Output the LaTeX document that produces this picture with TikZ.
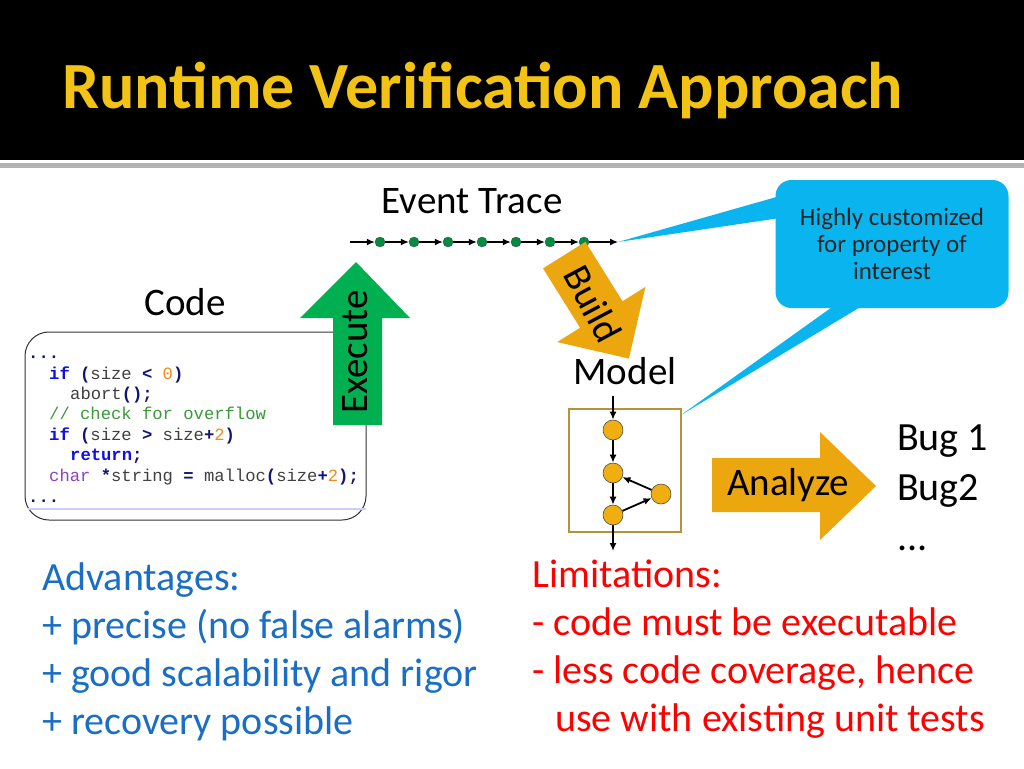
\documentclass[tikz,border=0pt]{standalone}
\usepackage{fontspec}
\setmainfont{Carlito}
\newfontfamily\codefont{Liberation Mono}
\usetikzlibrary{arrows.meta,positioning}
\definecolor{titlegold}{HTML}{F2C314}
\definecolor{callblue}{HTML}{0AB4EE}
\definecolor{exgreen}{HTML}{00B050}
\definecolor{amber}{HTML}{EDA70E}
\definecolor{modelgold}{HTML}{F0AE10}
\definecolor{boxbrown}{HTML}{B8923A}
\definecolor{advblue}{HTML}{1A6FC4}
\definecolor{kwblue}{HTML}{1010E0}
\definecolor{navy}{HTML}{141478}
\definecolor{numorange}{HTML}{F08A20}
\definecolor{cmtgreen}{HTML}{3A9A3A}
\definecolor{kwpurple}{HTML}{9040C0}
\newcommand{\fsz}[1]{\fontsize{#1}{#1}\selectfont}
\newcommand{\kw}[1]{\textcolor{kwblue}{\textbf{#1}}}
\newcommand{\pn}[1]{\textcolor{navy}{\textbf{#1}}}
\newcommand{\nm}[1]{\textcolor{numorange}{#1}}

\begin{document}
\begin{tikzpicture}[x=1pt,y=-1pt,
    lbl/.style={font=\fsz{39}},
    codeline/.style={anchor=base west,inner sep=0pt,font=\codefont\fontsize{17.2}{17}\selectfont,text=black!75},
    tick/.style={circle,fill=exgreen!80!black,draw=black!70,line width=0.4pt,inner sep=0pt,minimum size=10pt},
    state/.style={circle,fill=modelgold,draw=black!70,line width=0.6pt,inner sep=0pt,minimum size=20pt},
    edgeto/.style={-{Latex[length=8pt,width=7pt]},line width=1.8pt},
    listtext/.style={anchor=base west,inner sep=0pt,font=\fsz{40}}]
\useasboundingbox (0,0) rectangle (1024,768);
\fill[white] (0,0) rectangle (1024,768);
% header
\fill[black] (0,0) rectangle (1024,160);
\fill[black!30] (0,163) rectangle (1024,168);
\node[anchor=base west,inner sep=0pt,text=titlegold,font=\bfseries\fsz{66}] (title) at (62,108) {Runtime Verification Approach};

% event trace
\node[lbl] (trace) at (472,201) {Event Trace};
\coordinate (e0) at (350,242);
\coordinate (e8) at (618,242);
\foreach \i/\x in {1/380,2/414,3/448,4/482,5/516,6/550,7/584}
  \node[tick] (e\i) at (\x,242) {};
\foreach \a/\b in {0/1,1/2,2/3,3/4,4/5,5/6,6/7,7/8}
  \draw[-{Latex[length=8pt,width=7pt]},line width=1.3pt] (e\a) -- (e\b);

% callout
\fill[callblue] (e8) -- (780,196) -- (780,218) -- cycle;
\fill[callblue] (681,415) -- (842,300) -- (872,300) -- cycle;
\node[fill=callblue,rounded corners=16pt,minimum width=233pt,minimum height=128pt,
      align=center,font=\fsz{25},text=black!85] (call) at (892,244)
  {Highly customized\\[2pt]for property of\\[2pt]interest};

% code
\node[lbl] (code) at (185,302) {Code};
\draw[black!80,line width=1pt,rounded corners=24pt] (25,332) rectangle (366,520);
\draw[blue!20,line width=1.5pt] (28,509) -- (366,509);
\node[codeline] (c1) at (28,358) {\pn{...}};
\node[codeline] (c2) at (49,379) {\kw{if} \pn{(}size \pn{<} \nm{0}\pn{)}};
\node[codeline] (c3) at (70,399) {abort\pn{();}};
\node[codeline,text=cmtgreen] (c4) at (49,419) {// check for overflow};
\node[codeline] (c5) at (49,440) {\kw{if} \pn{(}size \pn{>} size\pn{+}\nm{2}\pn{)}};
\node[codeline] (c6) at (70,460) {\kw{return}\pn{;}};
\node[codeline] (c7) at (49,481) {\textcolor{kwpurple}{char} \pn{*}string \pn{=} malloc\pn{(}size\pn{+}\nm{2}\pn{);}};
\node[codeline] (c8) at (28,502) {\pn{...}};

% execute arrow
\fill[exgreen] (333,425) -- (333,318) -- (300,318) -- (356,262) -- (410,318) -- (382,318) -- (382,425) -- cycle;
\node[lbl,rotate=90] (exec) at (355,352) {Execute};

% build arrow
\begin{scope}[shift={(596,306)},rotate=-58]
  \fill[amber] (-60,-25) -- (10,-25) -- (10,-52) -- (62,0) -- (10,52) -- (10,25) -- (-60,25) -- cycle;
\end{scope}
\node[lbl,rotate=-62] (build) at (593,304) {Build};

% model
\node[lbl] (model) at (625,371) {Model};
\draw[boxbrown,line width=1.6pt] (569,409) rectangle (681,532);
\coordinate (m0) at (613,396);
\coordinate (m5) at (613,551);
\node[state] (s1) at (613,430) {};
\node[state] (s2) at (613,473) {};
\node[state] (s3) at (661,494) {};
\node[state] (s4) at (613,515) {};
\draw[edgeto] (m0) -- (s1);
\draw[edgeto] (s1) -- (s2);
\draw[edgeto] (s2) -- (s4);
\draw[edgeto] (s4) -- (s3);
\draw[edgeto] (s3) -- (s2);
\draw[edgeto] (s4) -- (m5);

% analyze arrow
\fill[amber] (712,458) -- (820,458) -- (820,432) -- (876,486) -- (820,540) -- (820,512) -- (712,512) -- cycle;
\node[lbl] (analyze) at (788,485) {Analyze};

% bugs
\node[listtext] (bug1) at (897,450) {Bug 1};
\node[listtext] (bug2) at (897,500) {Bug2};
\node[listtext] (bugs) at (897,550) {...};

% advantages
\begin{scope}[text=advblue]
\node[listtext] (adv) at (42,590) {Advantages:};
\node[listtext] (adv1) at (42,638) {+ precise (no false alarms)};
\node[listtext] (adv2) at (42,686) {+ good scalability and rigor};
\node[listtext] (adv3) at (42,734) {+ recovery possible};
\end{scope}

% limitations
\begin{scope}[text=red]
\node[listtext] (lim) at (532,587) {Limitations:};
\node[listtext] (lim1) at (532,635) {- code must be executable};
\node[listtext] (lim2) at (532,683) {- less code coverage, hence};
\node[listtext] (lim3) at (555,731) {use with existing unit tests};
\end{scope}
\end{tikzpicture}
\end{document}
